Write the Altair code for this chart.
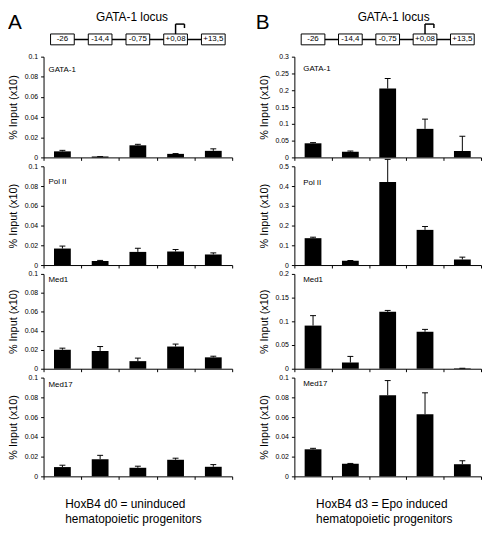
import altair as alt
import pandas as pd

# ---------------- data ----------------
regions = ["-26", "-14,4", "-0,75", "+0,08", "+13,5"]
tss_region = "+0,08"
locus_title = "GATA-1 locus"
panel_letters = ["A", "B"]
captions = [["HoxB4 d0 = uninduced", "hematopoietic progenitors"],
            ["HoxB4 d3 = Epo induced", "hematopoietic progenitors"]]
factors = ["GATA-1", "Pol II", "Med1", "Med17"]
y_title = "% Input (x10)"

# HoxB4 d0 (panel A)
d0_gata1 = [0.006, 0.0008, 0.012, 0.0035, 0.0065]
d0_gata1_err = [0.001, 0.0, 0.001, 0.0003, 0.002]
d0_pol2 = [0.0167, 0.004, 0.0133, 0.0137, 0.0107]
d0_pol2_err = [0.0025, 0.0007, 0.0037, 0.002, 0.0016]
d0_med1 = [0.020, 0.0186, 0.008, 0.0234, 0.012]
d0_med1_err = [0.0017, 0.0048, 0.0032, 0.0026, 0.0012]
d0_med17 = [0.0094, 0.0174, 0.0087, 0.0168, 0.0097]
d0_med17_err = [0.0019, 0.0039, 0.0016, 0.0016, 0.0022]

# HoxB4 d3 (panel B)
d3_gata1 = [0.042, 0.017, 0.205, 0.085, 0.019]
d3_gata1_err = [0.002, 0.002, 0.030, 0.029, 0.044]
d3_pol2 = [0.136, 0.022, 0.420, 0.178, 0.028]
d3_pol2_err = [0.005, 0.001, 0.115, 0.017, 0.012]
d3_med1 = [0.091, 0.013, 0.120, 0.078, 0.001]
d3_med1_err = [0.021, 0.013, 0.003, 0.005, 0.0]
d3_med17 = [0.0274, 0.0128, 0.0822, 0.0629, 0.0123]
d3_med17_err = [0.001, 0.0003, 0.0148, 0.0217, 0.0035]

ticks_01 = [0, 0.02, 0.04, 0.06, 0.08, 0.1]
ticks_03 = [0, 0.05, 0.1, 0.15, 0.2, 0.25, 0.3]
ticks_05 = [0, 0.1, 0.2, 0.3, 0.4, 0.5]
ticks_02 = [0, 0.05, 0.1, 0.15, 0.2]

# ---------------- layout ----------------
W_A, W_B = 191, 189
PANEL_H = [102, 100, 96, 100]
HEADER_H = 34
CAP_H = 30
FONT = "Liberation Sans"


def xscale():
    return alt.Scale(domain=regions, paddingInner=0, paddingOuter=0)


def panel(vals, errs, ymax, yticks, label, w, h, ldx, ldy):
    df = pd.DataFrame({"region": regions, "value": vals, "err": errs})
    df["top"] = df["value"] + df["err"]
    base = alt.Chart(df)
    x = alt.X("region:N", sort=regions, scale=xscale(),
              axis=alt.Axis(labels=False, title=None, tickSize=3, tickBand="extent",
                            domainColor="black", tickColor="black"))
    ys = alt.Scale(domain=[0, ymax], nice=False)
    yax = alt.Axis(values=yticks, format="~g", title=y_title, tickSize=3, labelPadding=3,
                   minExtent=20, maxExtent=20, titlePadding=5, grid=False)
    bars = base.mark_bar(size=17, color="black").encode(
        x=x, y=alt.Y("value:Q", scale=ys, axis=yax))
    err = base.mark_rule(color="black", strokeWidth=1).encode(
        x=x, y=alt.Y("value:Q", scale=ys, axis=yax), y2="top")
    cap = base.mark_tick(color="black", size=6, thickness=1, opacity=1,
                         orient="horizontal").encode(
        x=x, y=alt.Y("top:Q", scale=ys, axis=yax))
    lab = alt.Chart(pd.DataFrame({"t": [label]})).mark_text(
        align="left", baseline="middle", fontSize=8, color="black").encode(
        x=alt.value(ldx), y=alt.value(ldy), text="t:N")
    return alt.layer(bars, err, cap, lab).properties(width=w, height=h)


def header(letter, w, title_dx, letter_dx):
    df = pd.DataFrame({"region": regions})
    xs = alt.X("region:N", sort=regions, scale=xscale(), axis=None)
    line = alt.Chart(df).mark_line(color="black", strokeWidth=1.5).encode(
        x=xs, y=alt.value(25.5))
    boxes = alt.Chart(df).mark_bar(size=24, fill="white", stroke="black",
                                   strokeWidth=1).encode(
        x=xs, y=alt.value(20), y2=alt.value(31))
    box_text = alt.Chart(df).mark_text(fontSize=8, color="black").encode(
        x=xs, y=alt.value(25.5), text="region:N")
    tss = pd.DataFrame({"region": [tss_region]})
    v = alt.Chart(tss).mark_rule(color="black", strokeWidth=1.5).encode(
        x=xs, y=alt.value(20), y2=alt.value(10))
    hline = alt.Chart(tss).mark_rule(color="black", strokeWidth=1.5, x2Offset=9).encode(
        x=xs, x2="region", y=alt.value(10))
    tick = alt.Chart(tss).mark_rule(color="black", strokeWidth=1.5, xOffset=9).encode(
        x=xs, y=alt.value(10), y2=alt.value(14))
    title = alt.Chart(pd.DataFrame({"t": [locus_title]})).mark_text(
        fontSize=12, align="center", baseline="top", color="black").encode(
        x=alt.value(w / 2 + title_dx), y=alt.value(-2), text="t:N")
    let = alt.Chart(pd.DataFrame({"t": [letter]})).mark_text(
        fontSize=21, align="left", baseline="top", color="black").encode(
        x=alt.value(letter_dx), y=alt.value(-2), text="t:N")
    return alt.layer(line, boxes, box_text, v, hline, tick, title, let).properties(
        width=w, height=HEADER_H)


def caption(lines, w):
    return alt.Chart(pd.DataFrame({"t": ["\n".join(lines)]})).mark_text(
        align="left", baseline="top", fontSize=12, lineHeight=15, lineBreak="\n",
        color="black").encode(
        x=alt.value(22), y=alt.value(14), text="t:N").properties(width=w, height=CAP_H)


d0 = [(d0_gata1, d0_gata1_err, 0.1, ticks_01), (d0_pol2, d0_pol2_err, 0.1, ticks_01),
      (d0_med1, d0_med1_err, 0.1, ticks_01), (d0_med17, d0_med17_err, 0.1, ticks_01)]
d3 = [(d3_gata1, d3_gata1_err, 0.3, ticks_03), (d3_pol2, d3_pol2_err, 0.5, ticks_05),
      (d3_med1, d3_med1_err, 0.2, ticks_02), (d3_med17, d3_med17_err, 0.1, ticks_01)]
label_dy_A = [14, 16, 6, 8]
label_dy_B = [12, 17, 6, 6]

cells = [header(panel_letters[0], W_A, -6, -36), header(panel_letters[1], W_B, 6, -39)]
for i in range(4):
    a, b = d0[i], d3[i]
    cells.append(panel(a[0], a[1], a[2], a[3], factors[i], W_A, PANEL_H[i], 5, label_dy_A[i]))
    cells.append(panel(b[0], b[1], b[2], b[3], factors[i], W_B, PANEL_H[i], 9, label_dy_B[i]))
cells += [caption(captions[0], W_A), caption(captions[1], W_B)]

chart = alt.concat(*cells, columns=2, spacing={"row": 9, "column": 63},
                   bounds="flush", align="each").properties(padding=0).configure(
    font=FONT).configure_view(stroke=None).configure_axis(
    labelFontSize=7, titleFontSize=11, titleFontWeight="normal", labelColor="black",
    titleColor="black", domainColor="black", tickColor="black", labelFont=FONT,
    titleFont=FONT, grid=False)

chart.save("out.html", embed_options={"renderer": "svg", "actions": False})
